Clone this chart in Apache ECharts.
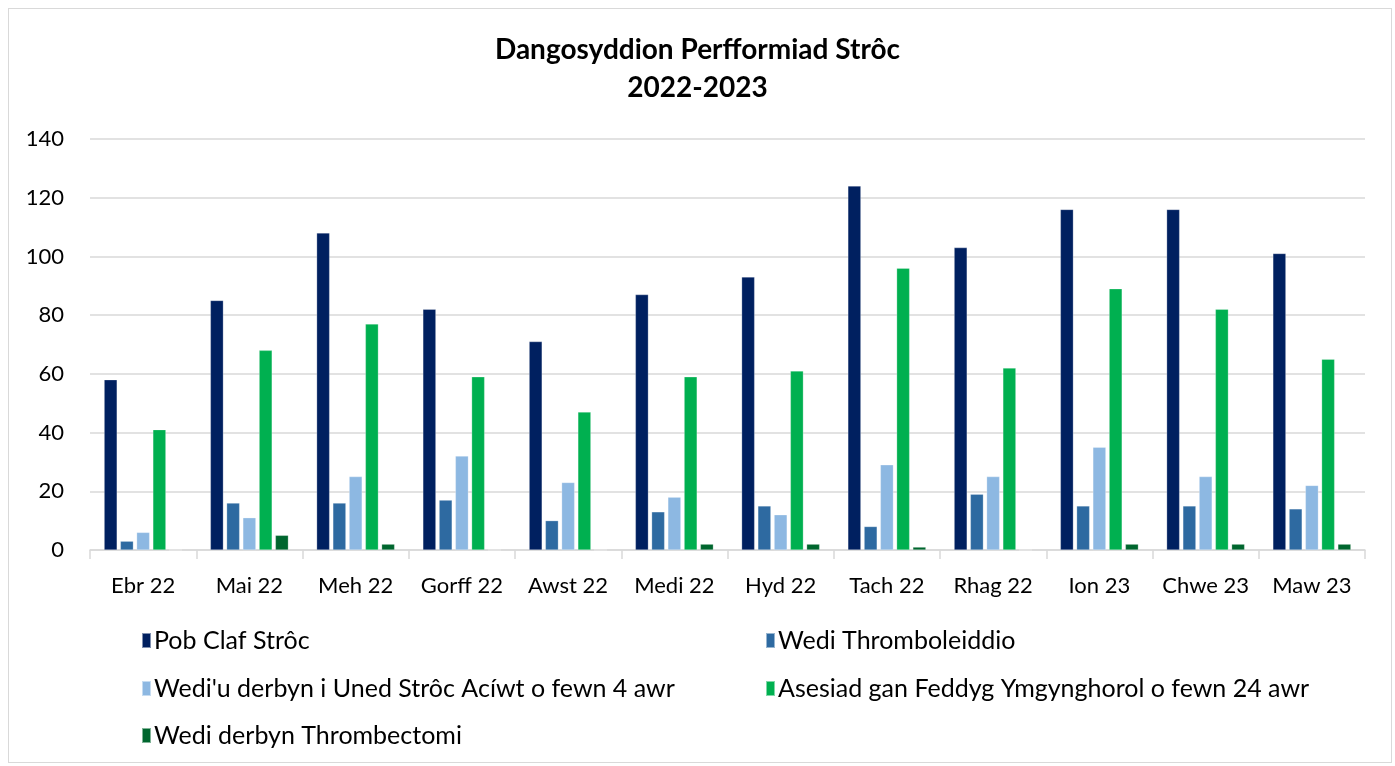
<!DOCTYPE html>
<html>
<head>
<meta charset="utf-8">
<script src="https://cdn.jsdelivr.net/npm/echarts@6/dist/echarts.min.js"></script>
<style>
  html, body { margin: 0; padding: 0; background: #fff; }
  #chart { width: 1395px; height: 766px; box-sizing: border-box; }
</style>
</head>
<body>
<div id="chart"></div>
<script>
  let months = ['Ebr 22', 'Mai 22', 'Meh 22', 'Gorff 22', 'Awst 22', 'Medi 22', 'Hyd 22', 'Tach 22', 'Rhag 22', 'Ion 23', 'Chwe 23', 'Maw 23']
  let seriesNames = ['Pob Claf Strôc', 'Wedi Thromboleiddio', "Wedi'u derbyn i Uned Strôc Acíwt o fewn 4 awr", 'Asesiad gan Feddyg Ymgynghorol o fewn 24 awr', 'Wedi derbyn Thrombectomi']
  let pobClaf = [58, 85, 108, 82, 71, 87, 93, 124, 103, 116, 116, 101]
  let thromboleiddio = [3, 16, 16, 17, 10, 13, 15, 8, 19, 15, 15, 14]
  let unedStroc = [6, 11, 25, 32, 23, 18, 12, 29, 25, 35, 25, 22]
  let asesiad = [41, 68, 77, 59, 47, 59, 61, 96, 62, 89, 82, 65]
  let thrombectomi = [0, 5, 2, 0, 0, 2, 2, 1, 0, 2, 2, 2]
  let colors = ['#002060', '#2e6aa1', '#8db8e2', '#00b050', '#00662e']

  let font = 'Lato, "Open Sans", sans-serif'
  let myChart = echarts.init(document.getElementById('chart'))

  // one legend per entry so they sit in two columns like the original
  let legendPos = [[136, 623], [760, 623], [136, 671], [760, 671], [136, 718]]
  let legends = seriesNames.map(function(name, i) {
    return {
      data: [name],
      left: legendPos[i][0],
      top: legendPos[i][1],
      icon: 'rect',
      itemWidth: 9,
      itemHeight: 15,
      itemGap: 0,
      textStyle: { fontFamily: font, fontSize: 25, color: '#000', padding: [0, 0, 0, -2] },
      selectedMode: false
    }
  })

  let data = [pobClaf, thromboleiddio, unedStroc, asesiad, thrombectomi]
  let option = {
    color: colors,
    animation: false,
    title: {
      text: 'Dangosyddion Perfformiad Strôc\n2022-2023',
      left: 'center',
      top: 26,
      textStyle: { fontFamily: font, fontSize: 28, fontWeight: 'bold', color: '#000', lineHeight: 38 }
    },
    legend: legends,
    grid: { left: 90, right: 30, top: 139, bottom: 216 },
    xAxis: [{
      type: 'category',
      data: months,
      axisLine: { lineStyle: { color: '#d9d9d9', width: 1.5 } },
      axisTick: { show: true, interval: 0, length: 9, lineStyle: { color: '#d9d9d9', width: 1.5 } },
      axisLabel: { interval: 0, fontFamily: font, fontSize: 22, color: '#000', margin: 25 }
    }],
    yAxis: [{
      type: 'value',
      min: 0,
      max: 140,
      interval: 20,
      axisLine: { show: false },
      axisTick: { show: false },
      axisLabel: { fontFamily: font, fontSize: 22, color: '#000', margin: 26 },
      splitLine: { lineStyle: { color: '#d9d9d9', width: 1.5 } }
    }],
    series: seriesNames.map(function(name, i) {
      return {
        name: name,
        type: 'bar',
        barWidth: 13,
        barGap: '25%',
        data: data[i],
        itemStyle: { borderColor: 'rgba(255,255,255,0.5)', borderWidth: 0.5 }
      }
    })
  }
  myChart.setOption(option)
</script>
<div style="position:absolute;left:8px;top:8px;width:1384px;height:755px;border:1.5px solid #d9d9d9;box-sizing:border-box;pointer-events:none;"></div>
</body>
</html>
